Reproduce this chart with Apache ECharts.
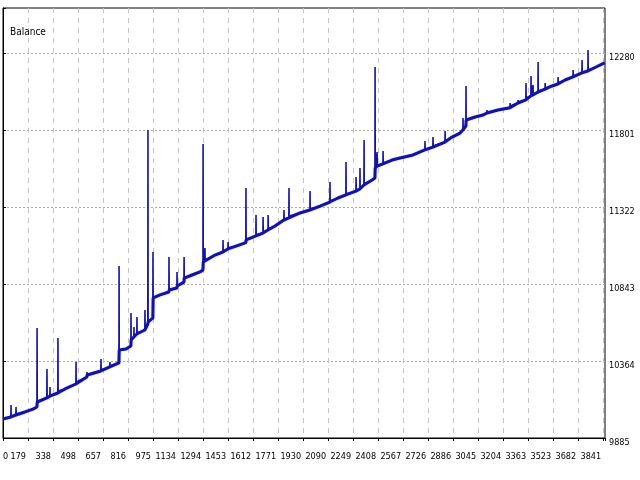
<!DOCTYPE html>
<html>
<head>
<meta charset="utf-8">
<script src="https://cdn.jsdelivr.net/npm/echarts@6/dist/echarts.min.js"></script>
<style>
html,body{margin:0;padding:0;background:#fff;}
#c{width:640px;height:480px;}
</style>
</head>
<body>
<div id="c"></div>
<script>
// Trade number (x) and account balance (y)
const tradeNo = [
  0,50,51,52,82,83,84,140,191,216,217,218,279,280,281,298,299,300,349,350,
  351,395,464,465,466,534,535,536,623,624,625,680,681,682,738,739,740,783,814,815,
  816,833,834,835,852,853,854,903,904,905,922,923,924,954,955,956,1000,1056,1057,1058,
  1107,1108,1109,1152,1153,1154,1204,1254,1273,1274,1275,1285,1286,1287,1350,1400,1401,1402,1432,1433,
  1434,1484,1546,1547,1548,1610,1611,1612,1655,1656,1657,1687,1688,1689,1732,1788,1789,1790,1820,1821,
  1822,1891,1954,1955,1956,2019,2081,2082,2083,2133,2183,2184,2185,2247,2248,2249,2272,2273,2274,2298,
  2299,2300,2350,2368,2369,2370,2381,2382,2383,2419,2420,2421,2477,2528,2611,2686,2687,2688,2737,2738,
  2739,2814,2815,2816,2859,2910,2928,2929,2930,2947,2948,2949,3006,3057,3081,3082,3083,3152,3228,3229,
  3230,3279,3280,3281,3329,3330,3331,3361,3362,3363,3374,3375,3376,3406,3407,3408,3451,3452,3453,3496,
  3533,3534,3535,3579,3629,3630,3631,3686,3687,3688,3724,3725,3726,3776,3830
];
const balance = [
  10003,10016,10090,10022,10028,10078,10034,10047,10065,10078,10569,10109,10134,10314,10140,10145,10202,10150,10165,10507,
  10177,10190,10221,10358,10233,10264,10296,10277,10302,10376,10308,10327,10358,10333,10352,10955,10432,10439,10457,10663,
  10495,10513,10575,10520,10532,10638,10538,10557,10681,10569,10594,11801,10607,10631,11042,10756,10775,10793,11011,10806,
  10818,10918,10831,10855,11011,10880,10899,10918,10930,11714,10980,10985,11067,10992,11023,11042,11117,11048,11061,11104,
  11067,11079,11100,11440,11117,11142,11272,11148,11160,11260,11166,11179,11272,11185,11204,11241,11303,11247,11254,11440,
  11266,11285,11303,11421,11310,11328,11353,11478,11359,11378,11397,11602,11403,11421,11509,11428,11434,11565,11440,11459,
  11739,11465,11490,11502,12193,11565,11570,11664,11577,11590,11670,11596,11614,11627,11646,11677,11732,11680,11695,11757,
  11701,11726,11795,11732,11757,11782,11801,11876,11813,11826,12075,11863,11882,11894,11907,11925,11907,11925,11940,11969,
  11950,11969,11988,11975,11988,12093,12000,12013,12137,12019,12019,12081,12019,12037,12224,12044,12056,12093,12062,12075,
  12087,12131,12093,12112,12131,12174,12137,12156,12236,12162,12168,12299,12174,12193,12218
];
const xTickLabels = ['0','179','338','498','657','816','975','1134','1294','1453','1612','1771','1930','2090','2249','2408','2567','2726','2886','3045','3204','3363','3523','3682','3841'];
const yTickLabels = [9885,10364,10843,11322,11801,12280];

const X_STEP = 159.2;
const Y_MIN = 9885, Y_STEP = 479;
const FONT = "'Liberation Sans Narrow','DejaVu Sans Condensed','Liberation Sans',sans-serif";

const fullData = tradeNo.map((t, i) => [t, balance[i]]);
// body of the balance curve: the same points without the single-trade peaks
const bodyData = fullData.filter((p, i) => {
  if (i === 0 || i === balance.length - 1) return true;
  return !(balance[i] > balance[i - 1] && balance[i] > balance[i + 1]);
});

const chart = echarts.init(document.getElementById('c'), null, {renderer:'canvas'});
chart.setOption({
  animation: false,
  backgroundColor: '#fff',
  title: {
    text: 'Balance', left: 5, top: 22,
    textStyle: {fontSize: 10, fontWeight: 'normal', color: '#000', fontFamily: FONT}
  },
  grid: {left: 3, right: 35, top: 8, bottom: 42, show: true, borderColor: '#000', borderWidth: 1},
  xAxis: {
    type: 'value', min: 0, max: 3833, interval: X_STEP,
    axisLine: {show: true, lineStyle: {color: '#000', width: 1}},
    axisTick: {show: true, length: 3, lineStyle: {color: '#000'}},
    axisLabel: {
      show: true, margin: 14, align: 'right', padding: [0, 2, 0, 0],
      alignMinLabel: 'left',
      fontSize: 9, color: '#000', fontFamily: FONT,
      formatter: function (v) {
        const k = Math.round(v / X_STEP);
        if (Math.abs(v - k * X_STEP) < 0.5 && k < xTickLabels.length) return xTickLabels[k];
        return '';
      }
    },
    splitLine: {show: true, showMinLine: false, showMaxLine: false,
      lineStyle: {color: '#c4c4c4', type: [5, 5], width: 1}}
  },
  yAxis: {
    type: 'value', position: 'right', min: Y_MIN, max: 12560, interval: Y_STEP,
    axisLine: {show: true, lineStyle: {color: '#000', width: 1}},
    axisTick: {show: true, length: 3, lineStyle: {color: '#000'}},
    axisLabel: {
      show: true, margin: 4, verticalAlign: 'top', lineHeight: 10,
      fontSize: 9, color: '#000', fontFamily: FONT,
      formatter: function (v) {
        for (const t of yTickLabels) if (Math.abs(v - t) < 0.5) return String(t);
        return '';
      }
    },
    splitLine: {show: true, showMinLine: false, showMaxLine: false,
      lineStyle: {color: '#a8a8a8', type: [2, 2], width: 1}}
  },
  series: [{
    name: 'Balance', type: 'line', showSymbol: false, symbol: 'none',
    data: bodyData,
    lineStyle: {color: '#1414a0', width: 3, shadowColor: 'rgba(110,110,255,0.5)', shadowBlur: 1.5},
    z: 5
  }, {
    name: 'Balance peaks', type: 'line', showSymbol: false, symbol: 'none',
    data: fullData,
    lineStyle: {color: '#1414a0', width: 1.6},
    z: 6
  }]
});
</script>
</body>
</html>
